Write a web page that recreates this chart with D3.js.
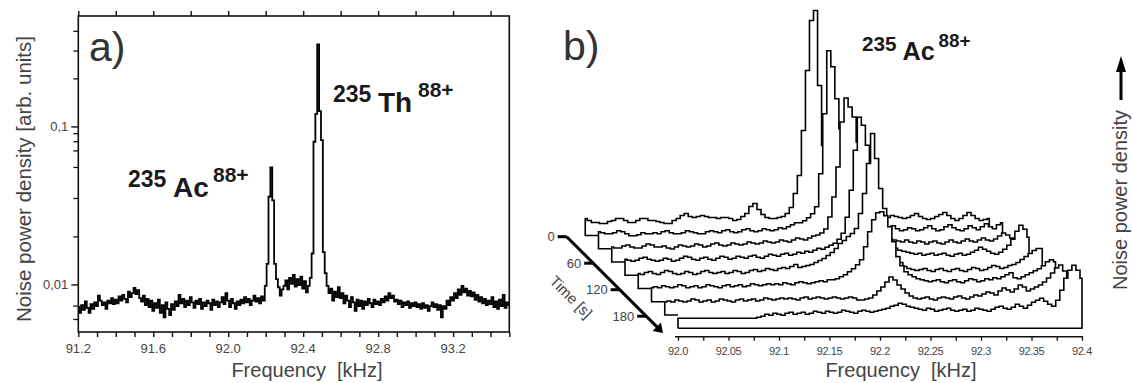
<!DOCTYPE html>
<html>
<head>
<meta charset="utf-8">
<script src="https://cdn.jsdelivr.net/npm/d3@7"></script>
<style>
	body { margin: 0; background: #fff; }
	svg { display: block; font-family: "Liberation Sans", Arial, sans-serif; }
</style>
</head>
<body>
<div id="root"></div>
<script>
// a) single spectrum, 0.01 kHz bins from 91.2 kHz
const freqStartA = 91.2;
const freqStepA = 0.01;
const densityA = [
	0.0072, 0.0066, 0.0074, 0.0069, 0.0078, 0.0071, 0.0066, 0.0075, 0.0070, 0.0077,
	0.0073, 0.0085, 0.0079, 0.0074, 0.0077, 0.0070, 0.0079, 0.0076, 0.0082, 0.0075,
	0.0080, 0.0076, 0.0084, 0.0079, 0.0086, 0.0081, 0.0077, 0.0090, 0.0083, 0.0088,
	0.0095, 0.0087, 0.0092, 0.0082, 0.0078, 0.0085, 0.0074, 0.0081, 0.0072, 0.0079,
	0.0068, 0.0076, 0.0071, 0.0080, 0.0066, 0.0074, 0.0062, 0.0077, 0.0070, 0.0064,
	0.0075, 0.0069, 0.0078, 0.0073, 0.0086, 0.0076, 0.0081, 0.0072, 0.0079, 0.0074,
	0.0083, 0.0077, 0.0071, 0.0079, 0.0075, 0.0081, 0.0070, 0.0077, 0.0073, 0.0079,
	0.0076, 0.0069, 0.0080, 0.0074, 0.0078, 0.0072, 0.0077, 0.0083, 0.0075, 0.0088,
	0.0079, 0.0072, 0.0081, 0.0076, 0.0070, 0.0078, 0.0074, 0.0080, 0.0076, 0.0083,
	0.0077, 0.0081, 0.0074, 0.0079, 0.0085, 0.0078, 0.0082, 0.0076, 0.0084, 0.0079,
	0.0098, 0.0135, 0.036, 0.055, 0.034, 0.0135, 0.0108, 0.0096, 0.0085, 0.0093,
	0.0098, 0.0106, 0.0093, 0.0110, 0.0101, 0.0115, 0.0097, 0.0108, 0.0099, 0.0112,
	0.0094, 0.0105, 0.0089, 0.0098, 0.0110, 0.0157, 0.080, 0.120, 0.330, 0.125,
	0.082, 0.0160, 0.0118, 0.0098, 0.0088, 0.0094, 0.0079, 0.0090, 0.0083, 0.0096,
	0.0082, 0.0088, 0.0076, 0.0085, 0.0079, 0.0072, 0.0083, 0.0077, 0.0068, 0.0080,
	0.0073, 0.0079, 0.0070, 0.0078, 0.0074, 0.0081, 0.0076, 0.0072, 0.0080, 0.0075,
	0.0078, 0.0074, 0.0081, 0.0077, 0.0084, 0.0079, 0.0088, 0.0082, 0.0085, 0.0078,
	0.0080, 0.0075, 0.0079, 0.0072, 0.0077, 0.0074, 0.0078, 0.0071, 0.0076, 0.0073,
	0.0077, 0.0072, 0.0075, 0.0070, 0.0076, 0.0071, 0.0074, 0.0068, 0.0073, 0.0077,
	0.0072, 0.0075, 0.0069, 0.0074, 0.0062, 0.0073, 0.0070, 0.0079, 0.0074, 0.0083,
	0.0079, 0.0088, 0.0082, 0.0093, 0.0086, 0.0098, 0.0089, 0.0094, 0.0085, 0.0091,
	0.0084, 0.0089, 0.0080, 0.0086, 0.0078, 0.0083, 0.0076, 0.0081, 0.0074, 0.0079,
	0.0075, 0.0083, 0.0072, 0.0078, 0.0070, 0.0080, 0.0073, 0.0086, 0.0071, 0.0077,
	0.0074,
];
const xLabelsA = [91.2, 91.6, 92.0, 92.4, 92.8, 93.2];
const yMajorA = [0.1, 0.01];
const yMajorLabelsA = ["0,1", "0,01"];
const yMinorA = [0.4, 0.3, 0.2, 0.09, 0.08, 0.07, 0.055, 0.035, 0.02, 0.0073, 0.006];

// b) waterfall, 0.004 kHz bins from 92.0 kHz, one trace every 30 s (height in arb. units)
const freqStartB = 92.0;
const freqStepB = 0.004;
const timesB = [0, 30, 60, 90, 120, 150, 180, 210];
const trace0 = [
	17, 15, 13, 13, 12, 12, 14, 15, 17, 17, 15, 13, 13, 15, 17, 17, 15, 15, 14, 13,
	12, 12, 15, 17, 20, 22, 19, 18, 19, 20, 19, 18, 18, 17, 18, 18, 17, 15, 16, 19,
	22, 29, 32, 26, 21, 18, 17, 17, 18, 19, 22, 28, 42, 60, 105, 165, 215, 225, 150, 90,
	60, 45, 35, 30, 26, 24, 22, 20, 19, 18, 19, 21, 19, 18, 17, 18, 20, 19, 18, 17,
	18, 20, 22, 19, 17, 16, 17, 19, 21, 23, 20, 17, 15, 17, 20, 23, 20, 17, 15, 16, 17,
];
const trace1 = [
	17, 16, 15, 15, 16, 18, 17, 15, 13, 13, 14, 16, 15, 15, 16, 15, 17, 18, 16, 15,
	15, 16, 18, 17, 16, 15, 15, 17, 18, 17, 16, 18, 19, 17, 16, 17, 19, 20, 18, 17,
	18, 20, 19, 18, 19, 21, 20, 22, 24, 26, 26, 28, 31, 35, 42, 75, 135, 198, 182, 150,
	120, 90, 68, 52, 42, 35, 30, 27, 25, 23, 22, 20, 21, 23, 20, 18, 19, 21, 20, 18,
	19, 21, 23, 20, 18, 19, 22, 24, 21, 19, 18, 20, 23, 21, 19, 22, 25, 22, 20, 24, 26,
];
const trace2 = [
	15, 14, 14, 16, 17, 15, 14, 14, 16, 18, 17, 15, 15, 16, 14, 13, 15, 17, 16, 15,
	16, 18, 17, 15, 16, 18, 19, 17, 16, 17, 19, 18, 17, 18, 20, 19, 18, 19, 21, 20,
	19, 20, 22, 21, 20, 22, 24, 23, 22, 24, 26, 27, 29, 33, 45, 65, 95, 140, 164, 155,
	145, 120, 90, 65, 48, 38, 32, 28, 25, 23, 22, 21, 20, 22, 20, 19, 21, 20, 18, 20,
	21, 19, 18, 20, 22, 20, 19, 21, 23, 21, 20, 22, 24, 22, 21, 23, 26, 29, 27, 24, 22,
];
const trace3 = [
	16, 15, 14, 15, 17, 18, 16, 15, 14, 15, 17, 16, 14, 15, 17, 19, 18, 16, 15, 17,
	18, 16, 15, 17, 19, 18, 16, 17, 19, 18, 17, 19, 20, 18, 17, 19, 21, 20, 19, 21,
	22, 20, 21, 23, 22, 24, 23, 25, 27, 26, 28, 30, 32, 36, 42, 58, 85, 125, 158, 150,
	130, 105, 80, 58, 44, 35, 30, 27, 25, 24, 23, 22, 21, 22, 20, 21, 22, 20, 21, 22,
	20, 19, 21, 22, 20, 21, 23, 25, 28, 26, 24, 22, 21, 23, 26, 30, 36, 44, 50, 46, 38,
];
const trace4 = [
	15, 14, 16, 17, 15, 14, 16, 18, 17, 15, 14, 15, 17, 16, 14, 15, 17, 18, 16, 15,
	16, 17, 15, 16, 18, 17, 15, 16, 18, 19, 17, 18, 20, 19, 18, 20, 21, 20, 22, 24,
	21, 22, 23, 24, 26, 28, 30, 33, 36, 40, 45, 48, 52, 55, 60, 75, 95, 125, 155, 130,
	100, 80, 60, 45, 32, 26, 22, 20, 19, 18, 19, 20, 18, 17, 19, 20, 18, 17, 19, 20,
	18, 17, 19, 21, 20, 18, 19, 21, 23, 22, 20, 21, 23, 24, 26, 29, 32, 35, 38, 40, 40,
];
const trace5 = [
	14, 15, 14, 16, 15, 14, 15, 17, 16, 14, 15, 16, 14, 15, 17, 16, 15, 14, 16, 17,
	15, 16, 17, 15, 16, 18, 17, 16, 17, 18, 17, 18, 17, 19, 18, 17, 19, 20, 19, 18,
	19, 20, 21, 20, 22, 22, 23, 25, 27, 30, 33, 37, 42, 55, 70, 82, 89, 90, 86, 75,
	60, 45, 36, 30, 27, 25, 23, 22, 21, 20, 21, 22, 20, 19, 21, 22, 20, 19, 21, 23,
	22, 20, 21, 23, 22, 24, 23, 25, 27, 29, 24, 23, 25, 27, 29, 31, 33, 36, 40, 42, 40,
];
const trace6 = [
	13, 14, 13, 15, 14, 13, 14, 16, 15, 13, 14, 15, 13, 14, 16, 15, 14, 13, 15, 16,
	14, 15, 16, 14, 15, 17, 16, 15, 16, 17, 16, 17, 16, 15, 17, 18, 16, 17, 18, 17,
	16, 17, 18, 17, 16, 17, 18, 17, 15, 15, 16, 17, 20, 24, 28, 33, 38, 35, 30, 26,
	22, 19, 17, 16, 17, 18, 16, 15, 17, 18, 17, 16, 18, 19, 17, 16, 18, 20, 19, 21,
	23, 22, 20, 24, 27, 25, 23, 26, 30, 28, 24, 26, 28, 30, 33, 37, 42, 47, 50, 44, 36,
];
const trace7 = [
	10, 10, 10, 10, 10, 10, 10, 10, 10, 10, 10, 10, 10, 10, 10, 10, 10, 10, 10, 10,
	11, 12, 14, 13, 15, 14, 13, 15, 16, 14, 15, 16, 14, 15, 17, 16, 15, 17, 16, 15,
	16, 18, 17, 16, 15, 17, 18, 17, 16, 17, 18, 19, 20, 22, 23, 25, 24, 22, 21, 20,
	19, 18, 20, 19, 17, 18, 19, 20, 18, 17, 18, 19, 17, 18, 20, 19, 18, 17, 19, 21,
	22, 20, 19, 21, 24, 22, 20, 23, 26, 28, 30, 27, 24, 22, 28, 38, 50, 58, 63, 58, 50,
];
const tracesB = [trace0, trace1, trace2, trace3, trace4, trace5, trace6, trace7];
const xTicksB = [92.0, 92.05, 92.1, 92.15, 92.2, 92.25, 92.3, 92.35, 92.4];
const xTickLabelsB = ["92.0", "92.05", "92.1", "92.15", "92.2", "92.25", "92.3", "92.35", "92.4"];
const timeTicks = [0, 60, 120, 180];

const main = () => {
	const width = 1133;
	const height = 383;

	const svg = d3
		.select("#root")
		.append("svg")
		.attr("width", width)
		.attr("height", height);

	// ---------- panel a ----------
	const a = { left: 78.3, right: 509.3, top: 16, bottom: 332 };
	const xA = d3.scaleLinear().domain([91.2, 93.5]).range([a.left, a.right]);
	const yA = d3.scaleLog().domain([0.005, 0.5]).range([a.bottom, a.top]);

	svg
		.append("defs")
		.append("clipPath")
		.attr("id", "clipA")
		.append("rect")
		.attr("x", a.left)
		.attr("y", a.top)
		.attr("width", a.right - a.left)
		.attr("height", a.bottom - a.top);

	const ptsA = densityA.map((v, i) => ({ f: freqStartA + i * freqStepA, v }));
	const lineA = d3
		.line()
		.curve(d3.curveStep)
		.x((d) => xA(d.f))
		.y((d) => yA(d.v));

	svg
		.append("path")
		.datum(ptsA)
		.attr("clip-path", "url(#clipA)")
		.attr("fill", "none")
		.attr("stroke", "#000")
		.attr("stroke-width", 1.8)
		.attr("d", lineA);

	svg
		.append("rect")
		.attr("x", a.left)
		.attr("y", a.top)
		.attr("width", a.right - a.left)
		.attr("height", a.bottom - a.top)
		.attr("fill", "none")
		.attr("stroke", "#111")
		.attr("stroke-width", 1.6);

	// bottom axis: ticks every 0.1, labels every 0.4
	const bottomA = svg.append("g").attr("transform", `translate(0,${a.bottom})`);
	bottomA
		.call(
			d3
				.axisBottom(xA)
				.tickValues(d3.range(0, 24).map((i) => 91.2 + i * 0.1))
				.tickSize(5)
				.tickFormat(() => "")
		)
		.call((g) => g.select(".domain").remove());
	bottomA
		.call((g) => g.selectAll("line").attr("stroke", "#111").attr("stroke-width", 1.4));
	bottomA
		.selectAll("text.lab")
		.data(xLabelsA)
		.join("text")
		.attr("class", "lab")
		.attr("x", (d) => xA(d))
		.attr("y", 21)
		.attr("text-anchor", "middle")
		.attr("font-size", 13)
		.attr("fill", "#444")
		.text((d) => d.toFixed(1));

	// top axis: ticks every 0.2
	svg
		.append("g")
		.attr("transform", `translate(0,${a.top})`)
		.call(
			d3
				.axisTop(xA)
				.tickValues(d3.range(0, 12).map((i) => 91.2 + i * 0.2))
				.tickSize(5)
				.tickFormat(() => "")
		)
		.call((g) => g.select(".domain").remove())
		.call((g) => g.selectAll("line").attr("stroke", "#111").attr("stroke-width", 1.4));

	// left log axis
	const leftA = svg.append("g").attr("transform", `translate(${a.left},0)`);
	leftA
		.call(
			d3
				.axisLeft(yA)
				.tickValues(yMajorA)
				.tickSize(7)
				.tickPadding(3)
				.tickFormat((d, i) => yMajorLabelsA[i])
		)
		.call((g) => g.select(".domain").remove())
		.call((g) => g.selectAll("line").attr("stroke", "#111").attr("stroke-width", 1.4))
		.call((g) =>
			g
				.selectAll("text")
				.attr("font-size", 13)
				.attr("fill", "#444")
				.attr("font-family", "Liberation Sans, Arial, sans-serif")
		);
	leftA
		.selectAll("line.minor")
		.data(yMinorA)
		.join("line")
		.attr("class", "minor")
		.attr("x1", -5)
		.attr("x2", 0)
		.attr("y1", (d) => yA(d))
		.attr("y2", (d) => yA(d))
		.attr("stroke", "#111")
		.attr("stroke-width", 1.3);

	svg
		.append("text")
		.attr("transform", "translate(31,179) rotate(-90)")
		.attr("text-anchor", "middle")
		.attr("font-size", 20.5)
		.attr("fill", "#444")
		.text("Noise power density [arb. units]");

	svg
		.append("text")
		.attr("x", 307)
		.attr("y", 377)
		.attr("text-anchor", "middle")
		.attr("font-size", 20)
		.attr("fill", "#444")
		.attr("xml:space", "preserve")
		.text("Frequency  [kHz]");

	svg
		.append("text")
		.attr("x", 89)
		.attr("y", 61)
		.attr("font-size", 41)
		.attr("fill", "#333")
		.text("a)");

	const ionLabel = (x, y, mass, el, charge, s) => {
		const g = svg.append("g").attr("fill", "#1a1a1a").attr("font-weight", "bold");
		g.append("text").attr("x", x).attr("y", y - 10 * s).attr("font-size", 23 * s).text(mass);
		g.append("text").attr("x", x + 45 * s).attr("y", y).attr("font-size", 28 * s).text(el);
		g.append("text").attr("x", x + 85 * s).attr("y", y - 15 * s).attr("font-size", 21 * s).text(charge);
	};
	ionLabel(128, 197, "235", "Ac", "88+", 1);
	ionLabel(333, 112, "235", "Th", "88+", 1);

	// ---------- panel b ----------
	const xB = d3.scaleLinear().domain([92.0, 92.4]).range([678, 1082]);
	const hB = d3.scaleLinear().domain([0, 230]).range([0, 230]);
	const tShift = d3.scaleLinear().domain([0, 180]).range([0, 79.5]);
	const frontBase = 328.3;
	const axisY = 336.7;
	const tFront = timesB[timesB.length - 1];

	tracesB.forEach((vals, k) => {
		const s = tShift(timesB[k]) - tShift(tFront);
		const base = frontBase + s;
		const pts = vals.map((h, j) => ({ f: freqStartB + j * freqStepB, h }));
		const X = (d) => xB(d.f) + s;
		const Y = (d) => base - hB(d.h);

		const area = d3.area().curve(d3.curveStep).x(X).y0(base).y1(Y);
		svg.append("path").datum(pts).attr("fill", "#fff").attr("d", area);

		const first = pts[0];
		const last = pts[pts.length - 1];
		const outline = [];
		if (k < tracesB.length - 1) {
			const gap = tShift(timesB[k + 1]) - tShift(timesB[k]);
			outline.push({ f: xB.invert(xB(first.f) + gap), h: 0 });
		}
		outline.push({ f: first.f, h: 0 }, ...pts, { f: last.f, h: 0 });
		if (k === tracesB.length - 1) outline.push({ f: first.f, h: 0 });

		svg
			.append("path")
			.datum(outline)
			.attr("fill", "none")
			.attr("stroke", "#000")
			.attr("stroke-width", 1.6)
			.attr("stroke-linejoin", "miter")
			.attr("d", d3.line().curve(d3.curveStep).x(X).y(Y));
	});

	// frequency axis
	const axB = svg.append("g").attr("transform", `translate(0,${axisY})`);
	axB
		.call(
			d3
				.axisBottom(xB)
				.tickValues(d3.range(0, 17).map((i) => 92.0 + i * 0.025))
				.tickSize(4)
				.tickFormat(() => "")
		)
		.call((g) => g.select(".domain").attr("d", `M${xB(92.0) - 3},0H${xB(92.4) + 1}`).attr("stroke", "#111").attr("stroke-width", 1.5))
		.call((g) => g.selectAll("line").attr("stroke", "#111").attr("stroke-width", 1.3));
	axB
		.selectAll("text.lab")
		.data(xTicksB)
		.join("text")
		.attr("class", "lab")
		.attr("x", (d) => xB(d))
		.attr("y", 18)
		.attr("text-anchor", "middle")
		.attr("font-size", 11)
		.attr("letter-spacing", -0.4)
		.attr("fill", "#444")
		.text((d, i) => xTickLabelsB[i]);

	svg
		.append("text")
		.attr("x", 901)
		.attr("y", 377)
		.attr("text-anchor", "middle")
		.attr("font-size", 20)
		.attr("fill", "#444")
		.attr("xml:space", "preserve")
		.text("Frequency  [kHz]");

	// time axis along the diagonal
	const t0 = { x: 566.7, y: 236.7 };
	const P = (t) => [t0.x + tShift(t), t0.y + tShift(t)];
	const timeG = svg.append("g");
	timeG
		.append("line")
		.attr("x1", P(0)[0])
		.attr("y1", P(0)[1])
		.attr("x2", P(206)[0])
		.attr("y2", P(206)[1])
		.attr("stroke", "#000")
		.attr("stroke-width", 3);
	const tip = P(218);
	const back = P(204);
	const off = 4.2;
	timeG
		.append("path")
		.attr(
			"d",
			`M${tip[0]},${tip[1]}L${back[0] + off},${back[1] - off}L${back[0] - off},${back[1] + off}Z`
		)
		.attr("fill", "#000");
	timeG
		.selectAll("line.tick")
		.data(timeTicks)
		.join("line")
		.attr("class", "tick")
		.attr("x1", (d) => P(d)[0] - 9)
		.attr("x2", (d) => P(d)[0])
		.attr("y1", (d) => P(d)[1])
		.attr("y2", (d) => P(d)[1])
		.attr("stroke", "#000")
		.attr("stroke-width", 3);
	timeG
		.selectAll("text.tl")
		.data(timeTicks)
		.join("text")
		.attr("class", "tl")
		.attr("x", (d) => P(d)[0] - 12)
		.attr("y", (d) => P(d)[1] + 4.5)
		.attr("text-anchor", "end")
		.attr("font-size", 13)
		.attr("fill", "#444")
		.text((d) => d);
	svg
		.append("text")
		.attr("transform", "translate(571,297) rotate(45)")
		.attr("text-anchor", "middle")
		.attr("dy", "0.35em")
		.attr("font-size", 15)
		.attr("fill", "#444")
		.text("Time [s]");

	svg
		.append("text")
		.attr("x", 563)
		.attr("y", 60)
		.attr("font-size", 41)
		.attr("fill", "#333")
		.text("b)");

	ionLabel(862, 60, "235", "Ac", "88+", 0.9);

	// right-hand label with arrow
	svg
		.append("text")
		.attr("transform", "translate(1127,200) rotate(-90)")
		.attr("text-anchor", "middle")
		.attr("font-size", 20)
		.attr("fill", "#444")
		.text("Noise power density");
	svg
		.append("line")
		.attr("x1", 1121)
		.attr("x2", 1121)
		.attr("y1", 100)
		.attr("y2", 70)
		.attr("stroke", "#000")
		.attr("stroke-width", 3);
	svg
		.append("path")
		.attr("d", "M1121,56L1126,72L1116,72Z")
		.attr("fill", "#000");
};

main();
</script>
</body>
</html>
